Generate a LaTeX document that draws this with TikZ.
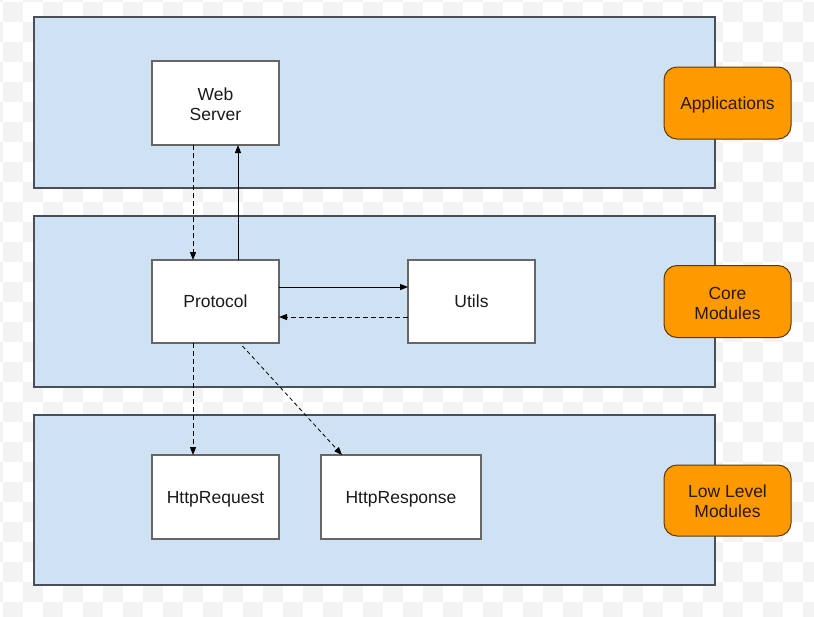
\documentclass[tikz,border=0pt]{standalone}
\usepackage{fontspec}
\setmainfont{Liberation Sans}
\usetikzlibrary{arrows.meta,calc}
\definecolor{bandfill}{HTML}{CFE2F3}
\definecolor{bandline}{HTML}{4A4F57}
\definecolor{boxline}{HTML}{666666}
\definecolor{orangefill}{HTML}{FF9900}
\definecolor{orangeline}{HTML}{5A3A08}
\definecolor{checkgray}{HTML}{F3F3F3}
\definecolor{txt}{HTML}{1A1A1A}
\definecolor{otxt}{HTML}{2A1A00}
\begin{document}
\begin{tikzpicture}[x=1pt,y=-1pt,
  band/.style={draw=bandline,fill=bandfill,line width=1.5pt,inner sep=0pt,outer sep=0pt,minimum width=681pt},
  wbox/.style={draw=boxline,fill=white,line width=1.5pt,inner sep=0pt,outer sep=0pt,minimum height=84pt,align=center,text=txt,font=\fontsize{17.5}{20}\selectfont},
  obox/.style={draw=orangeline,fill=orangefill,line width=1pt,rounded corners=13pt,inner sep=0pt,outer sep=0pt,minimum width=127pt,minimum height=72pt,align=center,text=otxt,font=\fontsize{17.5}{20}\selectfont},
  oneline/.style={text height=12.6pt,text depth=0pt},
  twoline/.style={label={[inner sep=0pt,align=center,yshift=-1.3pt,font=\fontsize{17.5}{20}\selectfont,text=#1]center:}},
  solidarrow/.style={line width=1pt,-{Triangle[length=8pt,width=6pt]}},
  dasharrow/.style={line width=1pt,dash pattern=on 5pt off 3pt,-{Triangle[length=8pt,width=6pt]}},
  thindash/.style={line width=0.8pt,dash pattern=on 4pt off 3pt,-{Triangle[length=8pt,width=6pt]}},
  lbl/.style={inner sep=0pt,align=center,font=\fontsize{17.5}{20}\selectfont}]
\useasboundingbox (0,0) rectangle (814,616);
\fill[white] (0,0) rectangle (814,616);
% checkerboard background
\foreach \i in {-1,...,40}{
  \foreach \j in {-1,...,30}{
    \pgfmathparse{int(mod(\i+\j+100,2))}
    \ifnum\pgfmathresult=0
      \fill[checkgray] ({3+20*\i},{2+20*\j}) rectangle ++(20,20);
    \fi
  }
}
% bands
\node[band,minimum height=171pt] (band1) at (374.5,102.5) {};
\node[band,minimum height=171pt] (band2) at (374.5,301.5) {};
\node[band,minimum height=170pt] (band3) at (374.5,500) {};
% white boxes
\node[wbox,minimum width=127pt] (web) at (215.5,103) {};
\node[lbl,text=txt] (webtext) at ([yshift=-1pt]web.center) {Web\\Server};
\node[wbox,oneline,minimum width=127pt,minimum height=83pt] (protocol) at (215.5,301.5) {Protocol};
\node[wbox,oneline,minimum width=127pt,minimum height=83pt] (utils) at (471.5,301.5) {Utils};
\node[wbox,oneline,minimum width=127pt] (hreq) at (215.5,497) {HttpRequest};
\node[wbox,oneline,minimum width=160pt] (hresp) at (401,497) {HttpResponse};
% orange labels
\node[obox,oneline] (apps) at (727.5,103) {Applications};
\node[obox] (core) at (727.5,301.5) {};
\node[lbl,text=otxt] (coretext) at ([yshift=-1.5pt]core.center) {Core\\Modules};
\node[obox,minimum height=71pt] (low) at (727.5,500.5) {};
\node[lbl,text=otxt] (lowtext) at ([yshift=-1pt]low.center) {Low Level\\Modules};
% helper coordinates
\coordinate (xa) at (193,0);
\coordinate (xb) at (238,0);
\coordinate (xc) at (342,0);
\coordinate (ya) at (0,287);
\coordinate (yb) at (0,317);
\coordinate (dstart) at (242.5,346);
% connectors
\draw[dasharrow] (web.south -| xa) -- (protocol.north -| xa);
\draw[solidarrow] (protocol.north -| xb) -- (web.south -| xb);
\draw[solidarrow] (protocol.east |- ya) -- (utils.west |- ya);
\draw[dasharrow] (utils.west |- yb) -- (protocol.east |- yb);
\draw[dasharrow] (protocol.south -| xa) -- (hreq.north -| xa);
\draw[thindash] (dstart) -- (hresp.north -| xc);
\end{tikzpicture}
\end{document}
